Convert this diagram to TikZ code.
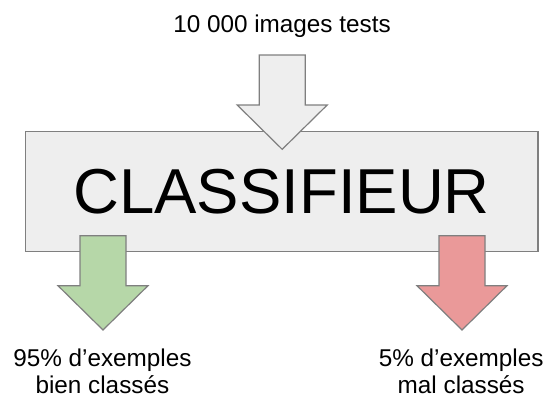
\documentclass[tikz,border=0pt]{standalone}
\usepackage{fontspec}
\setmainfont{Liberation Sans}
\definecolor{boxfill}{HTML}{EEEEEE}
\definecolor{edge}{HTML}{7F7F7F}
\definecolor{goodfill}{HTML}{B6D7A8}
\definecolor{badfill}{HTML}{EA9999}
\tikzset{
  shapeline/.style={draw=edge, line width=1.2pt, line join=miter},
  fatarrow/.pic={\path[pic actions] (-23,0) -- (23,0) -- (23,50) -- (45,50) -- (0,94.3) -- (-45,50) -- (-23,50) -- cycle;},
  smalltext/.style={font=\fontsize{24.3}{27.3}\selectfont, inner sep=0pt, align=center, anchor=base},
}
\begin{document}
\begin{tikzpicture}[x=1pt, y=-1pt]
\useasboundingbox (0,0) rectangle (547,397);
\node[shapeline, fill=boxfill, minimum width=512.7pt, minimum height=120pt, inner sep=0pt,
      font=\fontsize{63.5}{70}\selectfont] (clf) at (281.65,191.7) {CLASSIFIEUR};
\node[smalltext] (input) at (282,32.7) {10 000 images tests};
\pic[shapeline, fill=boxfill] (inarrow) at (282.2,55) {fatarrow};
\pic[shapeline, fill=goodfill] (goodarrow) at (103,235.7) {fatarrow};
\pic[shapeline, fill=badfill] (badarrow) at (462,235.7) {fatarrow};
\node[smalltext] (good) at (102.4,393.3) {95\% d’exemples\\bien classés};
\node[smalltext] (bad) at (461.2,393.3) {5\% d’exemples\\mal classés};
\end{tikzpicture}
\end{document}
